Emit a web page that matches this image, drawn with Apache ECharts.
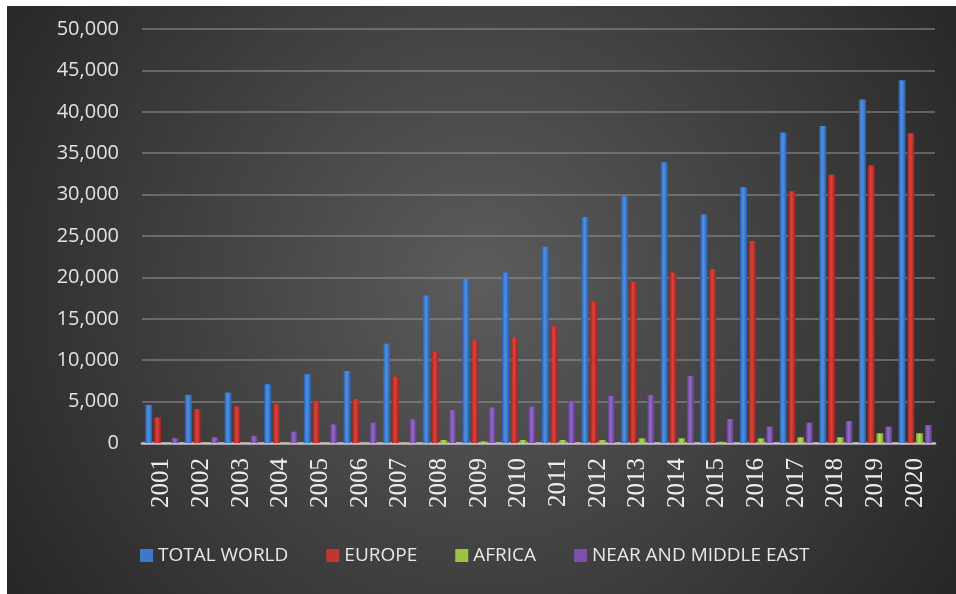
<!DOCTYPE html>
<html>
<head>
<meta charset="utf-8">
<script src="https://cdn.jsdelivr.net/npm/echarts@6/dist/echarts.min.js"></script>
<style>
  html, body { margin: 0; padding: 0; background: #ffffff; }
  #chart { position: absolute; left: 7px; top: 6px; width: 949px; height: 588px; }
</style>
</head>
<body>
<div id="chart"></div>
<script>
// Years on the category axis
const years = ['2001','2002','2003','2004','2005','2006','2007','2008','2009','2010',
               '2011','2012','2013','2014','2015','2016','2017','2018','2019','2020'];

// Yearly values per region
const totalWorld = [4600, 5800, 6100, 7100, 8300, 8700, 12000, 17800, 19800, 20600,
                    23700, 27300, 29800, 33900, 27600, 30900, 37500, 38300, 41500, 43800];
const europe     = [3100, 4100, 4400, 4700, 5100, 5300, 8000, 11000, 12400, 12800,
                    14100, 17100, 19500, 20600, 21000, 24400, 30400, 32400, 33500, 37400];
const africa     = [40, 40, 40, 40, 50, 50, 60, 360, 200, 360,
                    360, 360, 560, 560, 150, 560, 690, 690, 1170, 1170];
const nearMiddleEast = [570, 700, 850, 1370, 2250, 2450, 2860, 3980, 4300, 4400,
                        5000, 5700, 5800, 8100, 2900, 1970, 2450, 2660, 1970, 2170];

const seriesNames = ['TOTAL WORLD', 'EUROPE', 'AFRICA', 'NEAR AND MIDDLE EAST'];

// Value axis ticks
const yMin = 0, yMax = 50000, yStep = 5000;

// Cylinder-like shading: dark edges, lighter middle
function shade(dark, light) {
  return {
    type: 'linear', x: 0, y: 0, x2: 1, y2: 0,
    colorStops: [
      { offset: 0, color: dark },
      { offset: 0.45, color: light },
      { offset: 1, color: dark }
    ]
  };
}
const palette = [
  { dark: '#2a5fb0', light: '#5091e2', flat: '#3f78c8' },
  { dark: '#9e2420', light: '#dc433b', flat: '#c23530' },
  { dark: '#7d9e2a', light: '#b8da5c', flat: '#9cc23f' },
  { dark: '#5f3c8a', light: '#946cc6', flat: '#7a52aa' }
];

const chart = echarts.init(document.getElementById('chart'), null, { renderer: 'canvas' });

const dataSets = [totalWorld, europe, africa, nearMiddleEast];

chart.setOption({
  animation: false,
  backgroundColor: {
    type: 'radial', x: 0.5, y: 0.47, r: 0.95,
    colorStops: [
      { offset: 0, color: '#5c5c5c' },
      { offset: 1, color: '#272727' }
    ]
  },
  grid: { left: 135, right: 21, top: 23, bottom: 151, containLabel: false },
  legend: {
    left: 128, top: 535,
    itemWidth: 13, itemHeight: 13, itemGap: 38,
    icon: 'rect',
    textStyle: { color: '#e8e8e8', fontSize: 19, fontFamily: 'Open Sans' },
    data: seriesNames.map((n, i) => ({ name: n, itemStyle: { color: palette[i].flat } }))
  },
  xAxis: {
    type: 'category',
    data: years,
    axisTick: { show: false },
    axisLine: { show: true, lineStyle: { color: '#c4bcc4', width: 2.5 } },
    axisLabel: {
      rotate: 90, margin: 15,
      color: '#ececec', fontSize: 25, fontFamily: 'Liberation Serif'
    }
  },
  yAxis: {
    type: 'value',
    min: yMin, max: yMax, interval: yStep,
    axisLine: { show: false },
    axisTick: { show: false },
    splitLine: { lineStyle: { color: 'rgba(150,150,150,0.5)', width: 2 } },
    axisLabel: {
      margin: 23,
      color: '#e2e2e2', fontSize: 20, fontFamily: 'Open Sans',
      formatter: v => v.toLocaleString('en-US')
    }
  },
  series: dataSets.map((d, i) => ({
    name: seriesNames[i],
    type: 'bar',
    data: d,
    barWidth: 7,
    barGap: '25%',
    itemStyle: { color: shade(palette[i].dark, palette[i].light) }
  }))
});
</script>
</body>
</html>
